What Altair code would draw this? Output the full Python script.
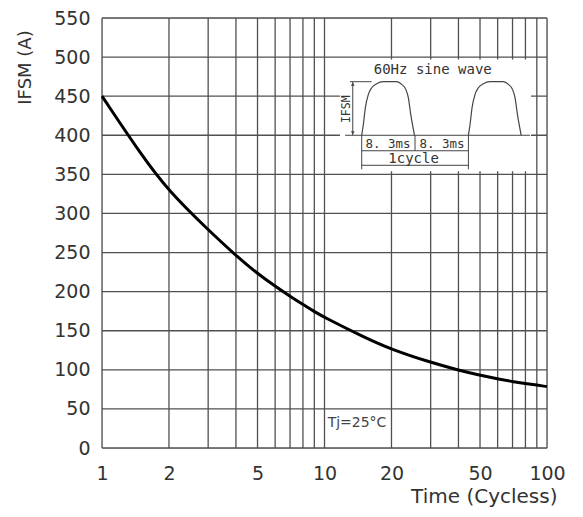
import altair as alt
import pandas as pd

# ---------------- data ----------------
cycles = [1, 1.5, 2, 3, 4, 5, 6, 7, 8, 9, 10, 15, 20, 30, 40, 50, 60, 70, 80, 90, 100]
ifsm = [450, 375, 328, 279, 246, 223, 207, 194, 183.5, 174.5, 167, 142, 126,
        109.5, 99.5, 93, 88.5, 85, 82.5, 80.5, 78.5]

x_grid = [1, 2, 3, 4, 5, 6, 7, 8, 9, 10, 20, 30, 40, 50, 60, 70, 80, 90, 100]
y_grid = [0, 50, 100, 150, 200, 250, 300, 350, 400, 450, 500, 550]
x_ticks = [1, 2, 5, 10, 20, 50, 100]
y_ticks = y_grid

# inset: 60 Hz half-sine pulses (time in ms, relative amplitude)
pulse_t = [0, 0.26, 0.57, 1.04, 1.56, 2.34, 3.38, 5.47, 6.25, 6.88, 7.29, 7.66, 8.25]
pulse_a = [0, 0.205, 0.516, 0.764, 0.888, 0.963, 1.0, 1.0, 0.95, 0.857, 0.70, 0.39, 0]
pulse_start = [0, 16.67]
inset_base = 400     # inset baseline, in axis units
inset_peak = 468.5   # inset peak level, in axis units

# inset dimension lines (ms, axis units)
seg_x = [-1.4, -1.83, -2.6, 0, 8.33, 16.67, 0, 0]
seg_x2 = [-1.4, 1.56, 26.3, 0, 8.33, 16.67, 16.67, 16.67]
seg_y = [400, 468.5, 400, 400, 400, 400, 380.2, 361.6]
seg_y2 = [468.5, 468.5, 400, 356.5, 380.2, 356.5, 380.2, 361.6]

inset_text = ["60Hz sine wave", "8. 3ms", "8. 3ms", "1cycle"]
inset_text_x = [11.1, 4.1, 12.55, 8.1]
inset_text_y = [483.1, 388.5, 388.5, 369.3]
inset_text_size = [14, 12.5, 12.5, 14]

box_x = [-3.4]
box_x2 = [26.45]
box_y = [354]
box_y2 = [497]

ms_domain = [-40.58, 28.95]

W, H = 445, 430
GRID = "#505050"
TXT = "#333333"
FONT = "DejaVu Sans"
MONO = "DejaVu Sans Mono"

# ---------------- frames ----------------
curve_df = pd.DataFrame({"cycles": cycles, "ifsm": ifsm})
xg_df = pd.DataFrame({"cycles": x_grid})
yg_df = pd.DataFrame({"ifsm": y_grid})

rows = []
for k, s in enumerate(pulse_start):
    for t, a in zip(pulse_t, pulse_a):
        rows.append({"ms": s + t, "amp": inset_base + (inset_peak - inset_base) * a, "pulse": k})
pulse_df = pd.DataFrame(rows)
seg_df = pd.DataFrame({"ms": seg_x, "ms2": seg_x2, "amp": seg_y, "amp2": seg_y2})
txt_df = pd.DataFrame({"ms": inset_text_x, "amp": inset_text_y, "label": inset_text,
                       "size": inset_text_size})
box_df = pd.DataFrame({"ms": box_x, "ms2": box_x2, "amp": box_y, "amp2": box_y2})
arrow_df = pd.DataFrame({"ms": [-1.4, -1.4], "amp": [inset_peak - 3, inset_base + 3],
                         "shape": ["triangle-up", "triangle-down"]})
ifsm_lbl_df = pd.DataFrame({"ms": [-2.3], "amp": [433.3], "label": ["IFSM"]})
tj_df = pd.DataFrame({"cycles": [14.0], "ifsm": [32], "label": ["Tj=25°C"]})

xs_log = alt.Scale(type="log", domain=[1, 100], nice=False)
ys = alt.Scale(domain=[0, 550], nice=False, zero=False)
xs_ms = alt.Scale(domain=ms_domain, nice=False, zero=False)

# ---------------- layers ----------------
vgrid = alt.Chart(xg_df).mark_rule(color=GRID, strokeWidth=1.3).encode(
    x=alt.X("cycles:Q", scale=xs_log, axis=None)
)
hgrid = alt.Chart(yg_df).mark_rule(color=GRID, strokeWidth=1.3).encode(
    y=alt.Y("ifsm:Q", scale=ys, axis=None)
)

box = alt.Chart(box_df).mark_rect(color="white").encode(
    x=alt.X("ms:Q", scale=xs_ms, axis=None), x2="ms2:Q",
    y=alt.Y("amp:Q", scale=ys, axis=None), y2="amp2:Q",
)
segs = alt.Chart(seg_df).mark_rule(color="#444444", strokeWidth=1).encode(
    x=alt.X("ms:Q", scale=xs_ms, axis=None), x2="ms2:Q",
    y=alt.Y("amp:Q", scale=ys, axis=None), y2="amp2:Q",
)
pulses = alt.Chart(pulse_df).mark_line(color="#444444", strokeWidth=1.2,
                                       interpolate="monotone").encode(
    x=alt.X("ms:Q", scale=xs_ms, axis=None),
    y=alt.Y("amp:Q", scale=ys, axis=None),
    detail="pulse:N",
)
arrows = alt.Chart(arrow_df).mark_point(filled=True, size=14, color="#444444", opacity=1).encode(
    x=alt.X("ms:Q", scale=xs_ms, axis=None),
    y=alt.Y("amp:Q", scale=ys, axis=None),
    shape=alt.Shape("shape:N", scale=None),
)
inset_txt = alt.Chart(txt_df).mark_text(font=MONO, color=TXT).encode(
    x=alt.X("ms:Q", scale=xs_ms, axis=None),
    y=alt.Y("amp:Q", scale=ys, axis=None),
    text="label:N",
    size=alt.Size("size:Q", scale=None, legend=None),
)
ifsm_lbl = alt.Chart(ifsm_lbl_df).mark_text(font=MONO, color=TXT, fontSize=11.5, angle=270).encode(
    x=alt.X("ms:Q", scale=xs_ms, axis=None),
    y=alt.Y("amp:Q", scale=ys, axis=None),
    text="label:N",
)

curve = alt.Chart(curve_df).mark_line(color="black", strokeWidth=3,
                                      interpolate="basis").encode(
    x=alt.X("cycles:Q", scale=xs_log,
            axis=alt.Axis(values=x_ticks, format="d", grid=False, ticks=False, tickSize=0,
                          domain=False, labelFont=FONT, labelFontSize=19, labelColor=TXT,
                          labelPadding=16, labelFlush=False, labelOverlap=False,
                          title="Time (Cycless)", titleFont=FONT, titleFontSize=20,
                          titleFontWeight="normal", titleColor=TXT, titleAlign="right",
                          titleX=455, titleY=48, titleBaseline="middle")),
    y=alt.Y("ifsm:Q", scale=ys,
            axis=alt.Axis(values=y_ticks, grid=False, ticks=False, tickSize=0, domain=False,
                          labelFont=FONT, labelFontSize=19, labelColor=TXT, labelPadding=12,
                          labelOverlap=False,
                          title="IFSM (A)", titleFont=FONT, titleFontSize=18,
                          titleFontWeight="normal", titleColor=TXT, titleAngle=270,
                          titleAlign="center", titleBaseline="middle",
                          titleX=-77, titleY=49)),
)
tj = alt.Chart(tj_df).mark_text(font=FONT, fontSize=14, color="#444444").encode(
    x=alt.X("cycles:Q", scale=xs_log, axis=None),
    y=alt.Y("ifsm:Q", scale=ys, axis=None),
    text="label:N",
)

chart = alt.layer(
    vgrid, hgrid, box, segs, pulses, arrows, inset_txt, ifsm_lbl, curve, tj
).resolve_scale(x="independent").resolve_axis(x="independent", y="independent").properties(
    width=W, height=H,
    autosize=alt.AutoSizeParams(type="none"),
    padding={"left": 94, "top": 10, "right": 25, "bottom": 59},
).configure_view(stroke=None).configure(background="white")

chart.save("out.html", embed_options={"renderer": "svg", "actions": False})
